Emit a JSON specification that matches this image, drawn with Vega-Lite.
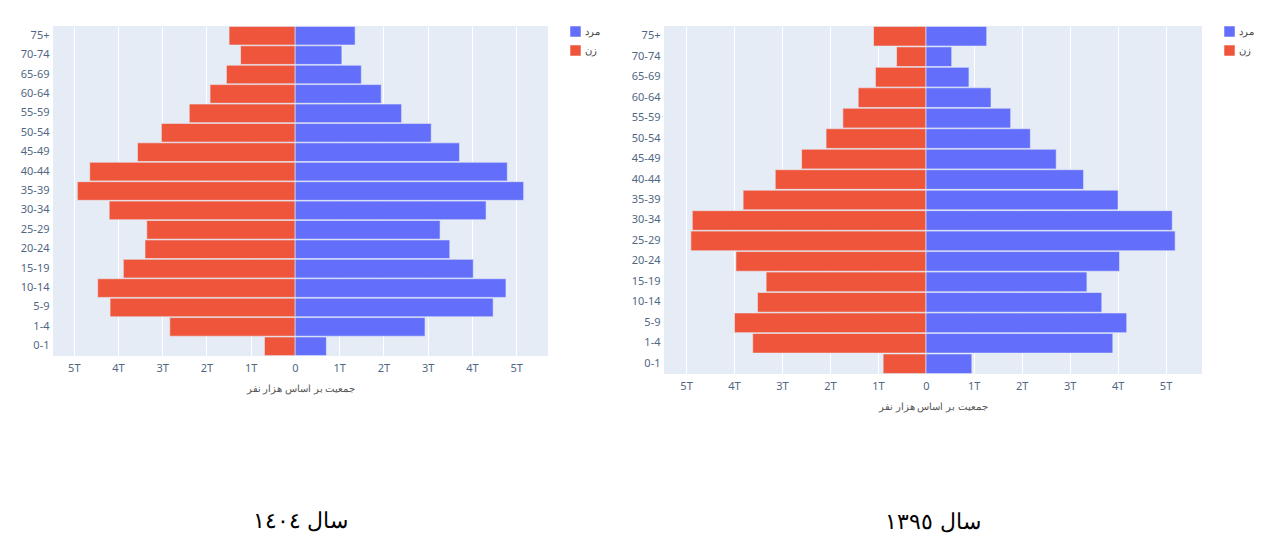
{
  "$schema": "https://vega.github.io/schema/vega-lite/v6.json",
  "background": "white",
  "padding": {"left": 20, "top": 26, "right": 5, "bottom": 5},
  "config": {
    "view": {"fill": "#E5ECF6", "stroke": null},
    "font": "Noto Sans",
    "axis": {"labelColor": "#506784", "labelFontSize": 11, "titleColor": "#555", "titleFontWeight": "normal", "titleFontSize": 10, "domain": false, "ticks": false, "gridColor": "white", "gridWidth": 1},
    "legend": {"labelFontSize": 10, "labelColor": "#444", "symbolType": "square", "symbolSize": 110, "symbolStrokeWidth": 0, "rowPadding": 8, "title": null},
    "title": {"font": "DejaVu Serif", "fontSize": 22, "fontWeight": "normal", "color": "black", "orient": "bottom", "anchor": "middle"}
  },
  "data": {"values": [
    {"year": "1404", "age": "75+", "ord": 16, "sex": "مرد", "v": 1.36},
    {"year": "1404", "age": "70-74", "ord": 15, "sex": "مرد", "v": 1.06},
    {"year": "1404", "age": "65-69", "ord": 14, "sex": "مرد", "v": 1.50},
    {"year": "1404", "age": "60-64", "ord": 13, "sex": "مرد", "v": 1.95},
    {"year": "1404", "age": "55-59", "ord": 12, "sex": "مرد", "v": 2.41},
    {"year": "1404", "age": "50-54", "ord": 11, "sex": "مرد", "v": 3.08},
    {"year": "1404", "age": "45-49", "ord": 10, "sex": "مرد", "v": 3.72},
    {"year": "1404", "age": "40-44", "ord": 9, "sex": "مرد", "v": 4.80},
    {"year": "1404", "age": "35-39", "ord": 8, "sex": "مرد", "v": 5.17},
    {"year": "1404", "age": "30-34", "ord": 7, "sex": "مرد", "v": 4.32},
    {"year": "1404", "age": "25-29", "ord": 6, "sex": "مرد", "v": 3.28},
    {"year": "1404", "age": "20-24", "ord": 5, "sex": "مرد", "v": 3.50},
    {"year": "1404", "age": "15-19", "ord": 4, "sex": "مرد", "v": 4.03},
    {"year": "1404", "age": "10-14", "ord": 3, "sex": "مرد", "v": 4.77},
    {"year": "1404", "age": "5-9", "ord": 2, "sex": "مرد", "v": 4.48},
    {"year": "1404", "age": "1-4", "ord": 1, "sex": "مرد", "v": 2.94},
    {"year": "1404", "age": "0-1", "ord": 0, "sex": "مرد", "v": 0.71},
    {"year": "1404", "age": "75+", "ord": 16, "sex": "زن", "v": -1.49},
    {"year": "1404", "age": "70-74", "ord": 15, "sex": "زن", "v": -1.23},
    {"year": "1404", "age": "65-69", "ord": 14, "sex": "زن", "v": -1.55},
    {"year": "1404", "age": "60-64", "ord": 13, "sex": "زن", "v": -1.92},
    {"year": "1404", "age": "55-59", "ord": 12, "sex": "زن", "v": -2.39},
    {"year": "1404", "age": "50-54", "ord": 11, "sex": "زن", "v": -3.02},
    {"year": "1404", "age": "45-49", "ord": 10, "sex": "زن", "v": -3.56},
    {"year": "1404", "age": "40-44", "ord": 9, "sex": "زن", "v": -4.64},
    {"year": "1404", "age": "35-39", "ord": 8, "sex": "زن", "v": -4.92},
    {"year": "1404", "age": "30-34", "ord": 7, "sex": "زن", "v": -4.20},
    {"year": "1404", "age": "25-29", "ord": 6, "sex": "زن", "v": -3.35},
    {"year": "1404", "age": "20-24", "ord": 5, "sex": "زن", "v": -3.39},
    {"year": "1404", "age": "15-19", "ord": 4, "sex": "زن", "v": -3.88},
    {"year": "1404", "age": "10-14", "ord": 3, "sex": "زن", "v": -4.46},
    {"year": "1404", "age": "5-9", "ord": 2, "sex": "زن", "v": -4.18},
    {"year": "1404", "age": "1-4", "ord": 1, "sex": "زن", "v": -2.83},
    {"year": "1404", "age": "0-1", "ord": 0, "sex": "زن", "v": -0.69},
    {"year": "1395", "age": "75+", "ord": 16, "sex": "مرد", "v": 1.27},
    {"year": "1395", "age": "70-74", "ord": 15, "sex": "مرد", "v": 0.54},
    {"year": "1395", "age": "65-69", "ord": 14, "sex": "مرد", "v": 0.90},
    {"year": "1395", "age": "60-64", "ord": 13, "sex": "مرد", "v": 1.36},
    {"year": "1395", "age": "55-59", "ord": 12, "sex": "مرد", "v": 1.77},
    {"year": "1395", "age": "50-54", "ord": 11, "sex": "مرد", "v": 2.18},
    {"year": "1395", "age": "45-49", "ord": 10, "sex": "مرد", "v": 2.72},
    {"year": "1395", "age": "40-44", "ord": 9, "sex": "مرد", "v": 3.29},
    {"year": "1395", "age": "35-39", "ord": 8, "sex": "مرد", "v": 4.01},
    {"year": "1395", "age": "30-34", "ord": 7, "sex": "مرد", "v": 5.14},
    {"year": "1395", "age": "25-29", "ord": 6, "sex": "مرد", "v": 5.20},
    {"year": "1395", "age": "20-24", "ord": 5, "sex": "مرد", "v": 4.04},
    {"year": "1395", "age": "15-19", "ord": 4, "sex": "مرد", "v": 3.36},
    {"year": "1395", "age": "10-14", "ord": 3, "sex": "مرد", "v": 3.67},
    {"year": "1395", "age": "5-9", "ord": 2, "sex": "مرد", "v": 4.19},
    {"year": "1395", "age": "1-4", "ord": 1, "sex": "مرد", "v": 3.90},
    {"year": "1395", "age": "0-1", "ord": 0, "sex": "مرد", "v": 0.96},
    {"year": "1395", "age": "75+", "ord": 16, "sex": "زن", "v": -1.09},
    {"year": "1395", "age": "70-74", "ord": 15, "sex": "زن", "v": -0.61},
    {"year": "1395", "age": "65-69", "ord": 14, "sex": "زن", "v": -1.05},
    {"year": "1395", "age": "60-64", "ord": 13, "sex": "زن", "v": -1.41},
    {"year": "1395", "age": "55-59", "ord": 12, "sex": "زن", "v": -1.73},
    {"year": "1395", "age": "50-54", "ord": 11, "sex": "زن", "v": -2.08},
    {"year": "1395", "age": "45-49", "ord": 10, "sex": "زن", "v": -2.59},
    {"year": "1395", "age": "40-44", "ord": 9, "sex": "زن", "v": -3.14},
    {"year": "1395", "age": "35-39", "ord": 8, "sex": "زن", "v": -3.81},
    {"year": "1395", "age": "30-34", "ord": 7, "sex": "زن", "v": -4.87},
    {"year": "1395", "age": "25-29", "ord": 6, "sex": "زن", "v": -4.90},
    {"year": "1395", "age": "20-24", "ord": 5, "sex": "زن", "v": -3.96},
    {"year": "1395", "age": "15-19", "ord": 4, "sex": "زن", "v": -3.33},
    {"year": "1395", "age": "10-14", "ord": 3, "sex": "زن", "v": -3.51},
    {"year": "1395", "age": "5-9", "ord": 2, "sex": "زن", "v": -3.99},
    {"year": "1395", "age": "1-4", "ord": 1, "sex": "زن", "v": -3.61},
    {"year": "1395", "age": "0-1", "ord": 0, "sex": "زن", "v": -0.89}
  ]},
  "resolve": {"legend": {"color": "independent"}, "scale": {"x": "independent", "y": "independent"}},
  "spacing": 31,
  "hconcat": [
    {
      "width": 495,
      "height": 330,
      "title": {"text": "سال ١٤٠٤", "offset": 118},
      "transform": [{"filter": "datum.year == '1404'"}],
      "mark": {"type": "bar", "stroke": "#E5ECF6", "strokeWidth": 0.6},
      "encoding": {
        "y": {"field": "age", "type": "nominal", "sort": {"field": "ord", "order": "descending"}, "scale": {"paddingInner": 0.04, "paddingOuter": 0.02}, "axis": {"title": null, "labelPadding": 4, "grid": false}},
        "x": {"field": "v", "type": "quantitative", "scale": {"domain": [-5.47, 5.72], "nice": false, "zero": false}, "axis": {"title": "جمعیت بر اساس  هزار نفر", "values": [-5, -4, -3, -2, -1, 0, 1, 2, 3, 4, 5], "labelExpr": "datum.value == 0 ? '0' : abs(datum.value) + 'T'", "labelPadding": 6, "titlePadding": 10}},
        "color": {"field": "sex", "type": "nominal", "scale": {"domain": ["مرد", "زن"], "range": ["#636EFA", "#EF553B"]}, "legend": {"offset": 22}}
      }
    },
    {
      "width": 538,
      "height": 348,
      "title": {"text": "سال ١٣٩٥", "offset": 101},
      "transform": [{"filter": "datum.year == '1395'"}],
      "mark": {"type": "bar", "stroke": "#E5ECF6", "strokeWidth": 0.6},
      "encoding": {
        "y": {"field": "age", "type": "nominal", "sort": {"field": "ord", "order": "descending"}, "scale": {"paddingInner": 0.04, "paddingOuter": 0.02}, "axis": {"title": null, "labelPadding": 4, "grid": false}},
        "x": {"field": "v", "type": "quantitative", "scale": {"domain": [-5.46, 5.76], "nice": false, "zero": false}, "axis": {"title": "جمعیت بر اساس  هزار نفر", "values": [-5, -4, -3, -2, -1, 0, 1, 2, 3, 4, 5], "labelExpr": "datum.value == 0 ? '0' : abs(datum.value) + 'T'", "labelPadding": 6, "titlePadding": 10}},
        "color": {"field": "sex", "type": "nominal", "scale": {"domain": ["مرد", "زن"], "range": ["#636EFA", "#EF553B"]}, "legend": {"offset": 22}}
      }
    }
  ]
}
